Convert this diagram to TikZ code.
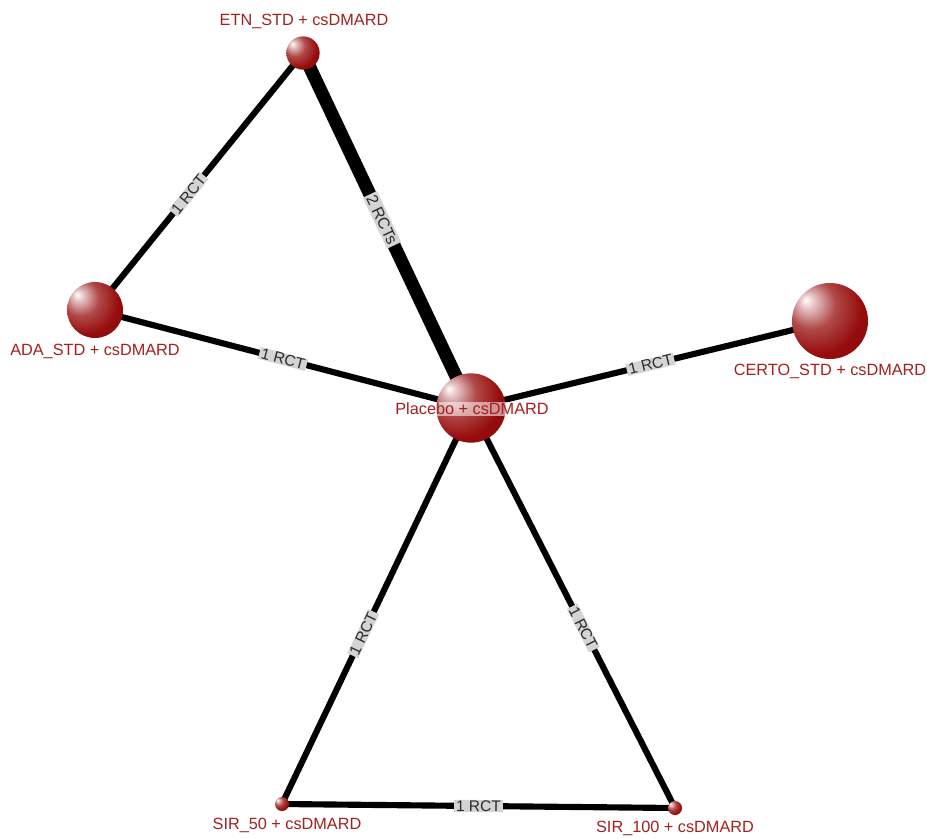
\documentclass[tikz,border=0pt]{standalone}
\usepackage{fontspec}
\setmainfont{Liberation Sans}
\usetikzlibrary{backgrounds}
\definecolor{ballred}{HTML}{960C0C}
\definecolor{labred}{HTML}{A3201F}
\definecolor{edgegray}{HTML}{D4D4D4}
\definecolor{edgetext}{HTML}{2A2A2A}
\pgfdeclareradialshading{redball}{\pgfpoint{-16bp}{14bp}}{%
  color(0bp)=(white);
  color(5bp)=(ballred!25!white);
  color(16bp)=(ballred!75!white);
  color(30bp)=(ballred);
  color(55bp)=(ballred!85!black);
  color(70bp)=(ballred!80!black)}
\begin{document}
\begin{tikzpicture}[x=0.75pt,y=-0.75pt,
  ballnode/.style={circle,shading=redball,inner sep=0pt,minimum size=#1},
  nodelabel/.style={text=labred,font=\fontsize{12.2pt}{14pt}\selectfont,inner sep=1pt},
  link/.style={line width=4.6pt,black},
  thicklink/.style={line width=9.8pt,black},
  edgelabel/.style={sloped,fill=edgegray,text=edgetext,font=\fontsize{11.6pt}{12pt}\selectfont,inner xsep=1.5pt,inner ysep=0.4pt}]
\useasboundingbox (0,0) rectangle (927,838);
\node[ballnode=25pt] (etn) at (303,53) {};
\node[ballnode=42pt] (ada) at (95,310) {};
\node[ballnode=52pt] (pla) at (471,408) {};
\node[ballnode=57pt] (cer) at (830,321) {};
\node[ballnode=10.5pt] (s50) at (282,804) {};
\node[ballnode=10.5pt] (s100) at (675,808) {};
\begin{scope}[on background layer]
\draw[link] (etn.center) -- node[edgelabel,pos=0.55] {1 RCT} (ada.center);
\draw[thicklink] (etn.center) -- node[edgelabel,pos=0.47,inner ysep=1.6pt,font=\fontsize{12pt}{13pt}\selectfont] {2 RCTs} (pla.center);
\draw[link] (ada.center) -- node[edgelabel] {1 RCT} (pla.center);
\draw[link] (pla.center) -- node[edgelabel] {1 RCT} (cer.center);
\draw[link] (pla.center) -- node[edgelabel,pos=0.57] {1 RCT} (s50.center);
\draw[link] (pla.center) -- node[edgelabel,pos=0.55] {1 RCT} (s100.center);
\draw[link] (s50.center) -- node[edgelabel,pos=0.5] {1 RCT} (s100.center);
\end{scope}
\node[nodelabel] (etnl) at (304,21) {ETN\_STD + csDMARD};
\node[nodelabel] (adal) at (95,351) {ADA\_STD + csDMARD};
\node[nodelabel,fill=white,fill opacity=0.55,text opacity=1] (plal) at (472,409) {Placebo + csDMARD};
\node[nodelabel] (cerl) at (830,371) {CERTO\_STD + csDMARD};
\node[nodelabel] (s50l) at (287,825) {SIR\_50 + csDMARD};
\node[nodelabel] (s100l) at (675,828) {SIR\_100 + csDMARD};
\end{tikzpicture}
\end{document}
